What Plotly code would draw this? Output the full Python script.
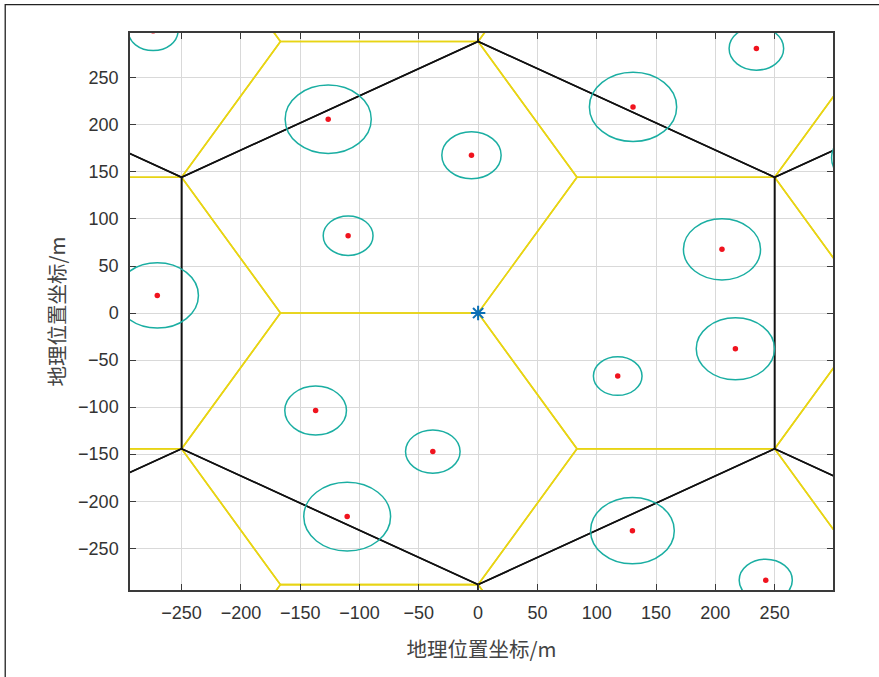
import numpy as np
import plotly.graph_objects as go

# ---- network layout (metres) ----
ISD = 500.0                      # inter-site distance
SITE_R = ISD / np.sqrt(3)        # circumradius of a site hexagon
SECTOR_R = SITE_R / np.sqrt(3)   # side of a sector hexagon
site_x = [0.0, 500.0, -500.0, 250.0, -250.0, 250.0, -250.0]
site_y = [0.0, 0.0, 0.0, 433.0, 433.0, -433.0, -433.0]

# sector-cell centre offsets relative to each site (three sectors)
sector_dx = [166.67, -83.33, -83.33]
sector_dy = [0.0, 144.34, -144.34]

# ---- users: position and coverage radius (metres) ----
ue_x = [-274.0, -126.4, -5.6, -109.6, 130.6, 234.6, 205.6, 328.0,
        216.9, 117.7, -270.5, -137.0, -38.2, -110.4, 130.1, 242.5]
ue_y = [300.0, 206.0, 167.7, 82.2, 219.1, 281.2, 67.7, 165.0,
        -38.0, -67.0, 18.7, -103.6, -147.2, -216.4, -231.3, -284.0]
ue_r = [21.0, 36.3, 25.0, 21.0, 36.8, 23.0, 32.5, 30.0,
        33.0, 20.5, 34.7, 26.0, 23.0, 36.6, 35.3, 22.4]

tick_vals = [-250, -200, -150, -100, -50, 0, 50, 100, 150, 200, 250]
x_range = [-293.5, 299.2]
y_range = [-294.4, 297.7]

YELLOW = "#e8d414"
TEAL = "#1aaea2"
RED = "#f0131e"
BLUE = "#0b6fb5"
AXIS = "#3a3a3a"
GRID = "#d9d9d9"


def hexagon(cx, cy, radius, start_deg):
    ang = np.deg2rad(start_deg + 60.0 * np.arange(7))
    return list(cx + radius * np.cos(ang)), list(cy + radius * np.sin(ang))


# sector boundaries (flat-top hexagons)
yx, yy = [], []
for sx, sy in zip(site_x, site_y):
    for dx, dy in zip(sector_dx, sector_dy):
        hx, hy = hexagon(sx + dx, sy + dy, SECTOR_R, 0.0)
        yx += hx + [None]
        yy += hy + [None]

# site boundaries (pointy-top hexagons)
bx, by = [], []
for sx, sy in zip(site_x, site_y):
    hx, hy = hexagon(sx, sy, SITE_R, 30.0)
    bx += hx + [None]
    by += hy + [None]

fig = go.Figure()
fig.add_trace(go.Scatter(x=yx, y=yy, mode="lines",
                         line=dict(color=YELLOW, width=1.6),
                         hoverinfo="skip", showlegend=False))
fig.add_trace(go.Scatter(x=bx, y=by, mode="lines",
                         line=dict(color="#111111", width=1.6),
                         hoverinfo="skip", showlegend=False))
fig.add_trace(go.Scatter(x=ue_x, y=ue_y, mode="markers",
                         marker=dict(color=RED, size=5.5),
                         showlegend=False))
fig.add_trace(go.Scatter(x=[site_x[0]], y=[site_y[0]], mode="markers",
                         marker=dict(symbol="asterisk-open", size=12,
                                     color=BLUE,
                                     line=dict(color=BLUE, width=2)),
                         showlegend=False))

shapes = []
for x, y, r in zip(ue_x, ue_y, ue_r):
    shapes.append(dict(type="circle", xref="x", yref="y",
                       x0=x - r, x1=x + r, y0=y - r, y1=y + r,
                       line=dict(color=TEAL, width=1.5), layer="above"))

# figure frame
shapes.append(dict(type="rect", xref="paper", yref="paper",
                   x0=-0.1775, x1=1.3, y0=-0.3, y1=1.051,
                   line=dict(color="#222222", width=1.3)))

axis_common = dict(
    showline=True, linecolor=AXIS, linewidth=1.5, mirror="ticks",
    ticks="inside", ticklen=6, tickwidth=1.3, tickcolor=AXIS,
    showgrid=True, gridcolor=GRID, gridwidth=1,
    zeroline=False, tickvals=tick_vals,
    tickfont=dict(family="Liberation Sans, Arial, sans-serif",
                  size=18, color="#333333"),
    title_font=dict(family="Noto Sans CJK SC, sans-serif",
                    size=20.5, color="#444444"),
)

fig.update_layout(
    width=879, height=677,
    margin=dict(l=130, r=46, t=33, b=87),
    paper_bgcolor="white", plot_bgcolor="white",
    shapes=shapes,
    xaxis=dict(range=x_range, title=dict(text="地理位置坐标/m", standoff=20),
               ticklabelstandoff=6, **axis_common),
    yaxis=dict(range=y_range, title=dict(text="地理位置坐标/m", standoff=7),
               ticklabelstandoff=6, **axis_common),
)

fig.write_html("out.html")
